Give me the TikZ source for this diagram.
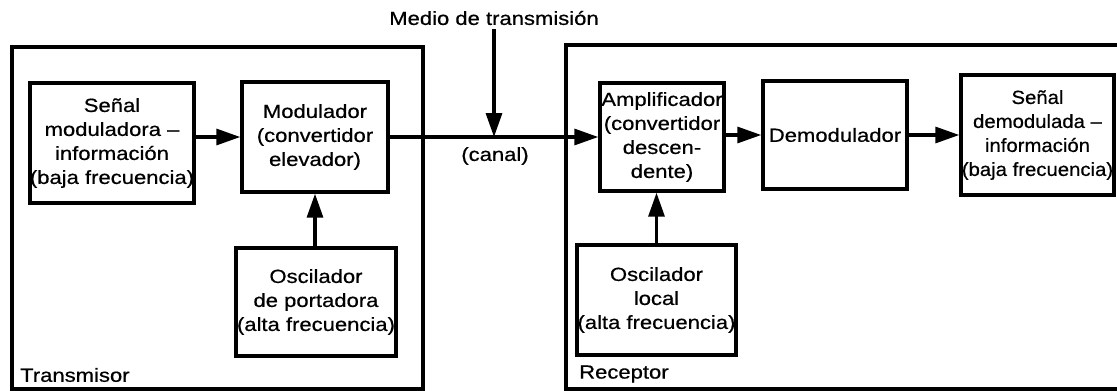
\documentclass[tikz,border=0pt]{standalone}
\usepackage{fontspec}
\setmainfont[FakeStretch=1.16,FakeBold=0.6]{Liberation Sans}
\newfontfamily\narrowfont[FakeStretch=1.07,FakeBold=0.6]{Liberation Sans}
\usetikzlibrary{arrows.meta}
\begin{document}
\begin{tikzpicture}[x=1pt,y=-1pt,
  outerbox/.style={draw,line width=4.5pt},
  blk/.style={draw,line width=3.4pt,inner sep=0pt,align=center,
    font=\fontsize{19}{24}\selectfont},
  lbl/.style={inner sep=0pt,font=\fontsize{19}{24}\selectfont},
  arr/.style={line width=3.2pt,-{Triangle[length=24pt,width=16pt]}}]
\useasboundingbox (0,0) rectangle (1117,391);
% outer boxes
\draw[outerbox] (12,47) rectangle (423,389);
\draw[outerbox] (566,45) rectangle (1125,389);
% transmitter blocks
\node[blk,minimum width=158pt,minimum height=120pt] (sm) at (112,143)
  {Señal\\moduladora –\\información\\(baja frecuencia)};
\node[blk,minimum width=146pt,minimum height=110pt] (mod) at (315,137)
  {Modulador\\(convertidor\\elevador)};
\node[blk,minimum width=160pt,minimum height=108pt] (osc1) at (316,302)
  {Oscilador\\de portadora\\(alta frecuencia)};
% receiver blocks
\node[blk,minimum width=124pt,minimum height=108pt] (amp) at (662,137)
  {Amplificador\\(convertidor\\descen-\\dente)};
\node[blk,minimum width=144pt,minimum height=108pt] (demod) at (835,135)
  {Demodulador};
\node[blk,minimum width=153pt,minimum height=120pt,
  font=\fontsize{19}{24}\narrowfont] (sd) at (1037.5,135)
  {Señal\\demodulada –\\información\\(baja frecuencia)};
\node[blk,minimum width=159pt,minimum height=110pt] (osc2) at (656.5,300)
  {Oscilador\\local\\(alta frecuencia)};
% labels
\node[lbl] (medio) at (494,18) {Medio de transmisión};
\node[lbl] (canal) at (495,156) {(canal)};
\node[lbl,anchor=west] (tx) at (20,375) {Transmisor};
\node[lbl,anchor=west] (rx) at (579,374) {Receptor};
% connectors
\draw[arr] (sm.east |- mod.west) -- (mod.west);
\draw[arr] (osc1.north -| mod.south) -- (mod.south);
\draw[arr] (mod.east) -- (amp.west);
\draw[arr] (medio.south) ++(0,4) coordinate (mtop) -- (mtop |- amp.west);
\draw[arr] (amp.east |- demod.west) -- (demod.west);
\draw[arr] (demod.east) -- (demod.east -| sd.west);
\draw[arr] (osc2.north) -- (osc2.north |- amp.south);
\end{tikzpicture}
\end{document}
